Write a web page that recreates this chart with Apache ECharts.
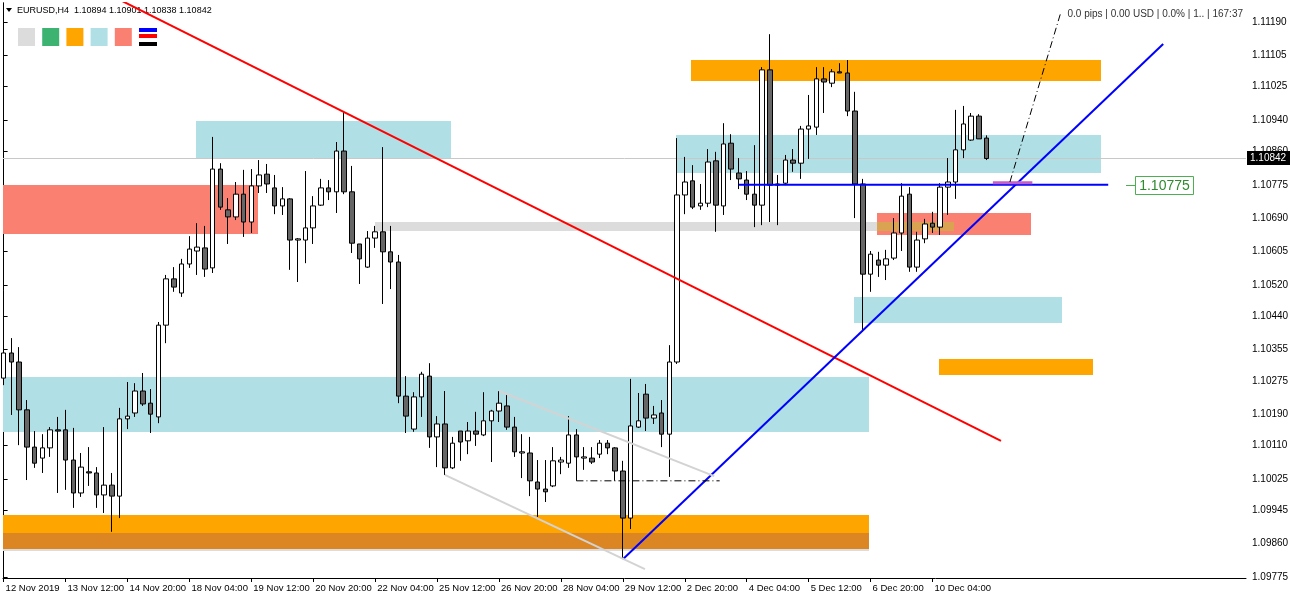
<!DOCTYPE html>
<html><head><meta charset="utf-8">
<script src="https://cdn.jsdelivr.net/npm/echarts@6/dist/echarts.min.js"></script>
<style>html,body{margin:0;padding:0;background:#fff}#c{width:1290px;height:600px}</style>
</head><body><div id="c"></div>
<script>
// ---------- data ----------
const symbol = 'EURUSD,H4';
const xTickLabels = ['12 Nov 2019','13 Nov 12:00','14 Nov 20:00','18 Nov 04:00','19 Nov 12:00','20 Nov 20:00','22 Nov 04:00','25 Nov 12:00','26 Nov 20:00','28 Nov 04:00','29 Nov 12:00','2 Dec 20:00','4 Dec 04:00','5 Dec 12:00','6 Dec 20:00','10 Dec 04:00'];
const barsPerTick = 8;
const yTicks = [1.09775,1.09860,1.09945,1.10025,1.10110,1.10190,1.10275,1.10355,1.10440,1.10520,1.10605,1.10690,1.10775,1.10860,1.10940,1.11025,1.11105,1.11190];

const opens = [
1.10282,1.10346,1.10323,1.10201,1.10106,1.10078,1.10104,1.10150,1.10150,1.10073,
1.09989,1.10043,1.10040,1.09984,1.10009,1.09981,1.10178,1.10193,1.10249,1.10218,
1.10183,1.10417,1.10535,1.10499,1.10573,1.10606,1.10614,1.10563,1.10815,1.10711,
1.10693,1.10751,1.10680,1.10772,1.10802,1.10767,1.10721,1.10739,1.10634,1.10634,
1.10665,1.10723,1.10767,1.10757,1.10861,1.10757,1.10624,1.10565,1.10639,1.10655,
1.10604,1.10578,1.10236,1.10152,1.10234,1.10287,1.10132,1.10165,1.10053,1.10147,
1.10122,1.10147,1.10137,1.10173,1.10198,1.10211,1.10157,1.10091,1.10091,1.10017,
1.09999,1.10007,1.10068,1.10065,1.10137,1.10078,1.10078,1.10088,1.10116,1.10104,
1.10045,1.09925,1.10157,1.10241,1.10180,1.10193,1.10139,1.10323,1.10749,1.10785,
1.10721,1.10728,1.10836,1.10721,1.10881,1.10805,1.10787,1.10751,1.10723,1.11068,
1.10774,1.10779,1.10838,1.10830,1.10917,1.10922,1.11045,1.11034,1.11063,1.11060,
1.10963,1.10777,1.10547,1.10583,1.10570,1.10588,1.10652,1.10751,1.10565,1.10637,
1.10677,1.10667,1.10769,1.10782,1.10864,1.10889,1.10950,1.10894];
const closes = [
1.10346,1.10323,1.10201,1.10106,1.10065,1.10104,1.10150,1.10147,1.10073,1.09989,
1.10055,1.10040,1.09984,1.10009,1.09981,1.10178,1.10185,1.10249,1.10216,1.10190,
1.10417,1.10535,1.10514,1.10573,1.10611,1.10616,1.10560,1.10815,1.10718,1.10693,
1.10751,1.10680,1.10772,1.10800,1.10777,1.10721,1.10739,1.10634,1.10637,1.10665,
1.10721,1.10767,1.10757,1.10861,1.10757,1.10626,1.10586,1.10639,1.10655,1.10604,
1.10578,1.10236,1.10185,1.10234,1.10292,1.10132,1.10165,1.10053,1.10116,1.10119,
1.10147,1.10139,1.10173,1.10198,1.10218,1.10157,1.10094,1.10094,1.10020,1.09999,
1.09992,1.10071,1.10073,1.10137,1.10081,1.10081,1.10068,1.10116,1.10104,1.10045,
1.09925,1.10160,1.10173,1.10180,1.10188,1.10139,1.10323,1.10749,1.10782,1.10718,
1.10728,1.10833,1.10723,1.10879,1.10815,1.10790,1.10751,1.10723,1.11068,1.10774,
1.10777,1.10838,1.10830,1.10917,1.10925,1.11045,1.11037,1.11063,1.11060,1.10963,
1.10777,1.10547,1.10598,1.10570,1.10586,1.10652,1.10746,1.10565,1.10634,1.10675,
1.10667,1.10769,1.10782,1.10864,1.10930,1.10950,1.10892,1.10842];
const highs = [
1.10359,1.10384,1.10361,1.10226,1.10147,1.10139,1.10157,1.10183,1.10201,1.10155,
1.10091,1.10106,1.10055,1.10157,1.10040,1.10206,1.10272,1.10269,1.10295,1.10254,
1.10425,1.10545,1.10565,1.10586,1.10644,1.10677,1.10670,1.10897,1.10830,1.10741,
1.10782,1.10813,1.10815,1.10838,1.10828,1.10800,1.10769,1.10741,1.10639,1.10810,
1.10746,1.10790,1.10787,1.10884,1.10961,1.10823,1.10624,1.10657,1.10670,1.10871,
1.10670,1.10596,1.10287,1.10246,1.10298,1.10320,1.10185,1.10249,1.10132,1.10147,
1.10170,1.10196,1.10246,1.10201,1.10249,1.10241,1.10183,1.10139,1.10132,1.10073,
1.10073,1.10106,1.10081,1.10185,1.10152,1.10106,1.10106,1.10124,1.10124,1.10106,
1.10071,1.10280,1.10244,1.10267,1.10211,1.10226,1.10366,1.10894,1.10846,1.10825,
1.10777,1.10866,1.10859,1.10932,1.10904,1.10843,1.10810,1.10876,1.11075,1.11159,
1.10800,1.10851,1.10866,1.10925,1.11004,1.11075,1.11075,1.11070,1.11085,1.11093,
1.11012,1.10790,1.10606,1.10604,1.10609,1.10690,1.10779,1.10769,1.10655,1.10688,
1.10706,1.10779,1.10843,1.10966,1.10976,1.10958,1.10955,1.10901];
const lows = [
1.10264,1.10188,1.10111,1.10022,1.10053,1.10040,1.10081,1.09989,1.09997,1.09951,
1.09979,1.10007,1.09951,1.09938,1.09890,1.09925,1.10152,1.10183,1.10211,1.10142,
1.10167,1.10371,1.10502,1.10489,1.10563,1.10545,1.10540,1.10550,1.10711,1.10624,
1.10685,1.10642,1.10652,1.10754,1.10754,1.10700,1.10698,1.10558,1.10527,1.10575,
1.10624,1.10721,1.10736,1.10703,1.10751,1.10601,1.10522,1.10563,1.10614,1.10471,
1.10509,1.10218,1.10142,1.10145,1.10183,1.10104,1.10055,1.10035,1.10050,1.10071,
1.10088,1.10109,1.10134,1.10068,1.10170,1.10150,1.10081,1.10027,1.09981,1.09928,
1.09966,1.10004,1.10037,1.10053,1.10020,1.10048,1.10063,1.10078,1.10088,1.10020,
1.09823,1.09897,1.10155,1.10147,1.10165,1.10106,1.10030,1.10318,1.10700,1.10713,
1.10711,1.10718,1.10655,1.10698,1.10787,1.10764,1.10736,1.10667,1.10672,1.10680,
1.10672,1.10774,1.10808,1.10790,1.10841,1.10902,1.10958,1.11024,1.11060,1.10950,
1.10690,1.10400,1.10502,1.10540,1.10532,1.10583,1.10606,1.10553,1.10553,1.10626,
1.10652,1.10647,1.10698,1.10739,1.10843,1.10887,1.10892,1.10838];

const bidPrice = 1.10842;

// zones (bar index from/to, price top/bottom, kind)
const zoneFrom   = [24.85, 86.86, -1, 109.85, 88.8, -1, 120.8, -1, 112.83, 47.98, -1];
const zoneTo     = [57.8, 141.77, 111.79, 136.73, 141.77, 111.79, 140.73, 32.86, 132.7, 122.78, 111.79];
const zoneTop    = [1.10938, 1.10902, 1.10285, 1.10489, 1.11093, 1.09933, 1.10331, 1.10774, 1.10703, 1.10680, 1.09887];
const zoneBottom = [1.10843, 1.10805, 1.10145, 1.10422, 1.11040, 1.09846, 1.10290, 1.10649, 1.10647, 1.10657, 1.09841];
const zoneKind   = ['blue','blue','blue','blue','orange','orange','orange','salmon','salmon','gray','gray'];

// trend / helper lines (bar index, price)
const lineX1 = [10, 80, 95, 64, 57, 127.8, 74, 130];
const lineY1 = [1.11296, 1.09820, 1.10775, 1.10249, 1.10035, 1.10780, 1.10020, 1.10782];
const lineX2 = [128.85, 149.8, 142.7, 91.8, 82.85, 132.9, 92.5, 136.6];
const lineY2 = [1.10122, 1.11134, 1.10775, 1.10032, 1.09795, 1.10780, 1.10020, 1.11216];
const lineKind = ['red','blue','blue','gray','gray','purple','dashdot','dashdot'];

const priceLabelBar = 145;
const priceLabelValue = 1.10775;
const infoText = '0.0 pips | 0.00 USD | 0.0% | 1.. | 167:37';

// ---------- styles ----------
const zoneColors = {blue:'#B0E0E6', orange:'#FFA500', salmon:'#FA8072', gray:'#DCDCDC'};
const lineStyles = {
  red:{color:'#FF0000', width:2, type:'solid'},
  blue:{color:'#0000FF', width:2, type:'solid'},
  gray:{color:'#D3D3D3', width:2, type:'solid'},
  purple:{color:'#C060C8', width:3, type:'solid'},
  dashdot:{color:'#000000', width:1, type:[7,3,1,3]}
};
const FONT = 'Liberation Sans';

// MT4-like XOR blending of overlapping rectangles
function rgb(h){return [parseInt(h.slice(1,3),16),parseInt(h.slice(3,5),16),parseInt(h.slice(5,7),16)];}
function xorMix(a,b){const A=rgb(a),B=rgb(b);return 'rgb('+A.map((v,i)=>255-(v^B[i])).join(',')+')';}
const rectData = [], rectFill = [];
for (let i=0;i<zoneFrom.length;i++){rectData.push([zoneFrom[i],zoneTo[i],zoneTop[i],zoneBottom[i]]);rectFill.push(zoneColors[zoneKind[i]]);}
for (let i=0;i<zoneFrom.length;i++) for (let j=i+1;j<zoneFrom.length;j++){
  const x1=Math.max(zoneFrom[i],zoneFrom[j]), x2=Math.min(zoneTo[i],zoneTo[j]);
  const t=Math.min(zoneTop[i],zoneTop[j]), b=Math.max(zoneBottom[i],zoneBottom[j]);
  if (x1<x2 && b<t){rectData.push([x1,x2,t,b]);rectFill.push(xorMix(zoneColors[zoneKind[i]],zoneColors[zoneKind[j]]));}
}

const candleData = opens.map((o,i)=>[i,o,closes[i],lows[i],highs[i]]);
const last = opens.length-1;
const titleText = symbol+'  '+opens[last].toFixed(5)+' '+highs[last].toFixed(5)+' '+lows[last].toFixed(5)+' '+closes[last].toFixed(5);
const xTickValues = xTickLabels.map((_,i)=>i*barsPerTick);

const Y_MIN = 1.097722, Y_MAX = 1.112385;

const chart = echarts.init(document.getElementById('c'), null, {renderer:'canvas', width:1290, height:600});

const lineSeries = lineKind.map((k,i)=>({
  type:'line', z:4, silent:true, animation:false, symbol:'none', showSymbol:false, clip:true,
  data:[[lineX1[i],lineY1[i]],[lineX2[i],lineY2[i]]],
  lineStyle:{color:lineStyles[k].color, width:lineStyles[k].width, type:lineStyles[k].type}
}));

const swatchKinds = ['gray','green','orange','blue','salmon'];
const swatchCol = {gray:'#DCDCDC', green:'#3CB371', orange:'#FFA500', blue:'#B0E0E6', salmon:'#FA8072'};
const graphics = [
  {type:'polygon', shape:{points:[[6,8],[12,8],[9,12]]}, style:{fill:'#000'}},
  {type:'text', x:17, y:11, style:{text:titleText, fill:'#000', font:'9px "'+FONT+'"', verticalAlign:'middle'}},
  {type:'text', x:1243, y:14, style:{text:infoText, fill:'#333', font:'10px "'+FONT+'"', align:'right', verticalAlign:'middle'}},
  {type:'rect', shape:{x:139,y:28,width:18,height:4}, style:{fill:'#0000FF'}},
  {type:'rect', shape:{x:139,y:34,width:18,height:4}, style:{fill:'#FF0000'}},
  {type:'rect', shape:{x:139,y:42,width:18,height:4}, style:{fill:'#000000'}}
];
swatchKinds.forEach((k,i)=>graphics.push({type:'rect', shape:{x:18+i*24.2,y:28,width:17,height:18}, style:{fill:swatchCol[k]}}));

chart.setOption({
  animation:false,
  backgroundColor:'#fff',
  grid:{left:3, right:44, top:3, bottom:22, outerBoundsMode:'none', containLabel:false},
  xAxis:{
    type:'value', min:-0.08, max:160.5,
    axisLine:{show:true, onZero:false, lineStyle:{color:'#000', width:1}},
    axisTick:{show:true, customValues:xTickValues, length:4, lineStyle:{color:'#000'}},
    axisLabel:{show:true, customValues:xTickValues, formatter:v=>xTickLabels[Math.round(v/barsPerTick)]||'', align:'left', margin:5, padding:[0,0,0,2], fontSize:9.5, fontFamily:FONT, color:'#000'},
    splitLine:{show:false}
  },
  yAxis:[{
    type:'value', position:'right', min:Y_MIN, max:Y_MAX,
    axisLine:{show:true, lineStyle:{color:'#000', width:1}},
    axisTick:{show:true, customValues:yTicks, length:4, lineStyle:{color:'#000'}},
    axisLabel:{show:true, customValues:yTicks, formatter:v=>v.toFixed(5), margin:6, fontSize:10, fontFamily:FONT, color:'#000'},
    splitLine:{show:false}
  },{
    type:'value', position:'left', min:Y_MIN, max:Y_MAX,
    axisLine:{show:true, lineStyle:{color:'#000', width:1}},
    axisTick:{show:false}, axisLabel:{show:false}, splitLine:{show:false}
  }],
  graphic:graphics,
  series:[
    {
      type:'custom', z:1, silent:true, animation:false,
      data:rectData,
      encode:{x:[0,1], y:[2,3]},
      renderItem:(params, api)=>{
        const a = api.coord([api.value(0), api.value(2)]);
        const b = api.coord([api.value(1), api.value(3)]);
        const cs = params.coordSys;
        const x0=Math.round(a[0]), y0=Math.round(a[1]), x1=Math.round(b[0]), y1=Math.round(b[1]);
        const shape = echarts.graphic.clipRectByRect({x:x0,y:y0,width:x1-x0,height:y1-y0},{x:cs.x,y:cs.y,width:cs.width,height:cs.height});
        if (!shape) return null;
        return {type:'rect', shape:shape, style:{fill:rectFill[params.dataIndex]}};
      }
    },
    {
      // bid line with its price box on the axis
      type:'custom', z:2, silent:true, animation:false,
      data:[[0, bidPrice]],
      renderItem:(params, api)=>{
        const p = api.coord([api.value(0), api.value(1)]);
        const cs = params.coordSys;
        const y = Math.round(p[1]) + 0.5;
        const right = cs.x + cs.width;
        return {type:'group', children:[
          {type:'line', shape:{x1:cs.x, y1:y, x2:right, y2:y}, style:{stroke:'#C8C8C8', lineWidth:1}},
          {type:'rect', z2:10, shape:{x:right+1, y:y-7.5, width:44, height:14}, style:{fill:'#000'}},
          {type:'text', z2:11, x:right+4, y:y, style:{text:api.value(1).toFixed(5), fill:'#fff', font:'10px "'+FONT+'"', verticalAlign:'middle'}}
        ]};
      }
    },
    {
      type:'candlestick', z:3, silent:true, animation:false, barWidth:5, clip:true,
      data:candleData,
      itemStyle:{color:'#FFFFFF', color0:'#666666', borderColor:'#000000', borderColor0:'#000000', borderWidth:1}
    },
    ...lineSeries,
    {
      type:'custom', z:6, silent:true, animation:false,
      data:[[priceLabelBar, priceLabelValue]],
      renderItem:(params, api)=>{
        const p = api.coord([api.value(0), api.value(1)]);
        const x = Math.round(p[0]), y = Math.round(p[1]);
        return {type:'group', children:[
          {type:'line', shape:{x1:x, y1:y+0.5, x2:x+9, y2:y+0.5}, style:{stroke:'#4CAF50', lineWidth:1}},
          {type:'rect', shape:{x:x+9.5, y:y-8.5, width:58, height:18}, style:{fill:'#fff', stroke:'#4CAF50', lineWidth:1}},
          {type:'text', x:x+38.5, y:y+1, style:{text:api.value(1).toFixed(5), fill:'#2E8B2E', font:'14px "'+FONT+'"', align:'center', verticalAlign:'middle'}}
        ]};
      }
    }
  ]
});
</script>
</body></html>
